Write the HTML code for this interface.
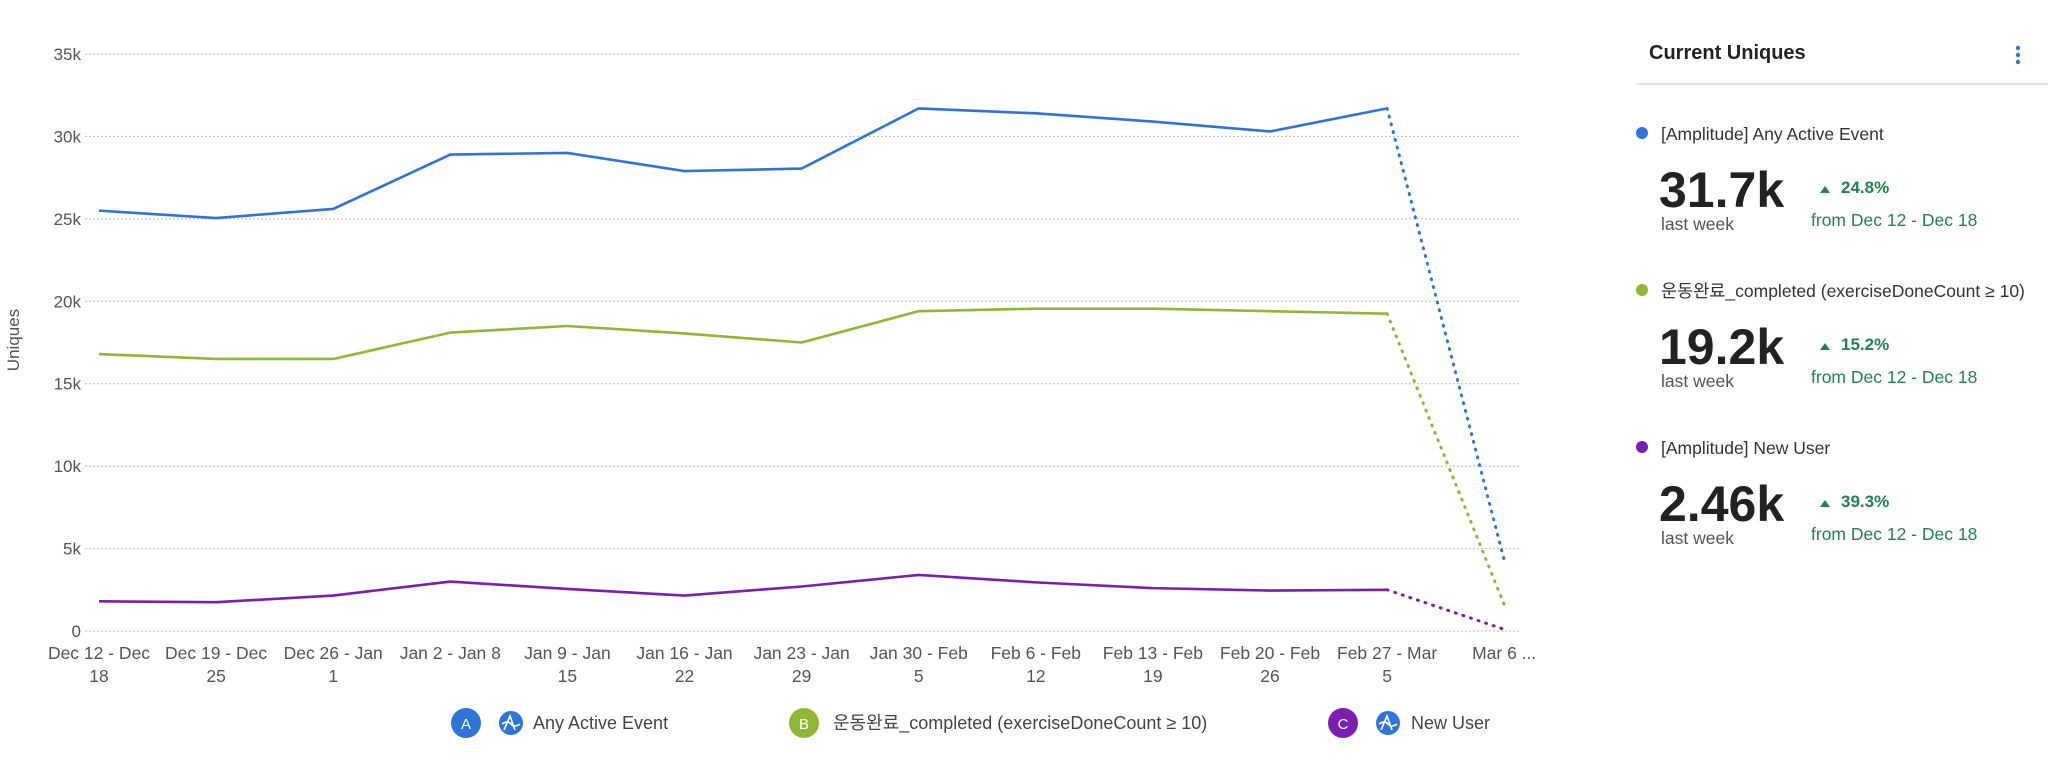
<!DOCTYPE html>
<html><head><meta charset="utf-8"><style>
html,body{margin:0;padding:0;background:#fff;width:2048px;height:760px;overflow:hidden}
svg{display:block;font-family:"Liberation Sans","Noto Sans CJK KR",sans-serif}
</style></head><body>
<svg id="c" width="2048" height="760" viewBox="0 0 2048 760">
<g id="grid"></g>
<g id="yt"></g>
<g id="xt"></g>
<g id="series"></g>
<text transform="translate(19,340) rotate(-90)" text-anchor="middle" font-size="17" fill="#555">Uniques</text>

<g font-size="18" fill="#444">
 <g>
  <circle cx="466" cy="723" r="15" fill="#2f74d8"/><text x="466" y="729" text-anchor="middle" fill="#fff" font-size="15">A</text>
  <circle cx="511" cy="723" r="12" fill="#2f74d8"/><path d="M504 730 L510 716 L515 730 M502 724 Q508 720 511 724 T520 724" stroke="#fff" stroke-width="1.6" fill="none"/>
  <text x="533" y="729">Any Active Event</text>
 </g>
 <g>
  <circle cx="804" cy="723" r="15" fill="#8fb935"/><text x="804" y="729" text-anchor="middle" fill="#fff" font-size="15">B</text>
  <text x="833" y="729">운동완료_completed (exerciseDoneCount ≥ 10)</text>
 </g>
 <g>
  <circle cx="1343" cy="723" r="15" fill="#7a1fb0"/><text x="1343" y="729" text-anchor="middle" fill="#fff" font-size="15">C</text>
  <circle cx="1388" cy="723" r="12" fill="#2f74d8"/><path d="M1381 730 L1387 716 L1392 730 M1379 724 Q1385 720 1388 724 T1397 724" stroke="#fff" stroke-width="1.6" fill="none"/>
  <text x="1411" y="729">New User</text>
 </g>
</g>

<g>
 <text x="1649" y="59" font-size="20" font-weight="bold" fill="#222">Current Uniques</text>
 <g fill="#2f74d8"><circle cx="2018" cy="48" r="2.2"/><circle cx="2018" cy="55" r="2.2"/><circle cx="2018" cy="62" r="2.2"/></g>
 <line x1="1636" y1="84" x2="2048" y2="84" stroke="#ddd" stroke-width="1.5"/>
 <g id="cards"></g>
</g>
</svg>
<script>
const categories=[["Dec 12 - Dec","18"],["Dec 19 - Dec","25"],["Dec 26 - Jan","1"],["Jan 2 - Jan 8",""],["Jan 9 - Jan","15"],["Jan 16 - Jan","22"],["Jan 23 - Jan","29"],["Jan 30 - Feb","5"],["Feb 6 - Feb","12"],["Feb 13 - Feb","19"],["Feb 20 - Feb","26"],["Feb 27 - Mar","5"],["Mar 6 ...",""]];
const activeEvent=[25500,25050,25600,28900,29000,27900,28050,31700,31400,30900,30300,31700,4300];
const exerciseDone=[16800,16500,16500,18100,18500,18050,17500,19400,19550,19550,19400,19250,1600];
const newUser=[1800,1750,2150,3000,2550,2150,2700,3400,2950,2600,2450,2500,100];
const yTicks=[0,5000,10000,15000,20000,25000,30000,35000];
const yTickLabels=["0","5k","10k","15k","20k","25k","30k","35k"];
const cardNames=["[Amplitude] Any Active Event","운동완료_completed (exerciseDoneCount ≥ 10)","[Amplitude] New User"];
const cardValues=["31.7k","19.2k","2.46k"];
const cardChanges=["24.8%","15.2%","39.3%"];

const NS="http://www.w3.org/2000/svg";
function el(t,a,p){const e=document.createElementNS(NS,t);for(const k in a)e.setAttribute(k,a[k]);p.appendChild(e);return e;}
const x=i=>99+i*117.1;
const y=v=>631-v/35000*577;
const grid=document.getElementById('grid'),yt=document.getElementById('yt'),xt=document.getElementById('xt'),sg=document.getElementById('series');
yTicks.forEach((v,i)=>{
 const l=el('line',{x1:85,x2:1519,y1:y(v),y2:y(v),stroke:'#bbb','stroke-width':1,'stroke-dasharray':'2 2'},grid);
 
 
 const t=el('text',{x:81,y:y(v)+6,'text-anchor':'end','font-size':17,fill:'#555'},yt);
 
 
 t.textContent=yTickLabels[i];
});
categories.forEach((c,i)=>{
 const t=el('text',{x:x(i),y:659,'text-anchor':'middle','font-size':17.5,fill:'#555'},xt);
 
 
 t.textContent=c[0];
 if(c[1]){const t2=el('text',{x:x(i),y:682,'text-anchor':'middle','font-size':17.5,fill:'#555'},xt);
 
 
 t2.textContent=c[1];}
});
function series(vals,color,name){
 const n=vals.length;
 const pts=vals.slice(0,n-1).map((v,i)=>x(i)+','+y(v)).join(' ');
 const p=el('polyline',{points:pts,fill:'none',stroke:color,'stroke-width':2.6,'stroke-linejoin':'round'},sg);
 
 
 const d=el('line',{x1:x(n-2),y1:y(vals[n-2]),x2:x(n-1),y2:y(vals[n-1]),stroke:color,'stroke-width':3,'stroke-dasharray':'1 7','stroke-linecap':'round'},sg);
 
 
}
series(activeEvent,'#2f74d8','any-active-event');
series(exerciseDone,'#8fb935','exercise-done');
series(newUser,'#7a1fb0','new-user');
const colors=['#2f74d8','#8fb935','#7a1fb0'];
const cards=document.getElementById('cards');
cardNames.forEach((nm,i)=>{
 const oy=i*157;
 const g=el('g',{},cards);
 
 
 el('circle',{cx:1642,cy:133+oy,r:6,fill:colors[i]},g);
 el('text',{x:1661,y:140+oy,'font-size':17.5,fill:'#333'},g).textContent=nm;
 el('text',{x:1659,y:207+oy,'font-size':50,'font-weight':'bold',fill:'#222'},g).textContent=cardValues[i];
 el('text',{x:1661,y:230+oy,'font-size':17.5,fill:'#555'},g).textContent='last week';
 el('path',{d:`M1820 ${193+oy} l5 -7 l5 7 z`,fill:'#1e8450'},g);
 el('text',{x:1841,y:193+oy,'font-size':17,'font-weight':'bold',fill:'#1e8450'},g).textContent=cardChanges[i];
 el('text',{x:1811,y:226+oy,'font-size':17.5,fill:'#1e8450'},g).textContent='from Dec 12 - Dec 18';
});
</script>
</body></html>
